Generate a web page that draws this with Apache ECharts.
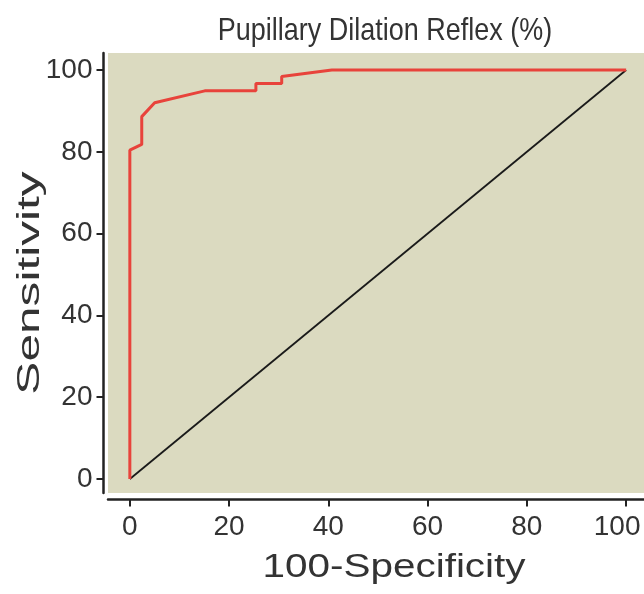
<!DOCTYPE html>
<html>
<head>
<meta charset="utf-8">
<script src="https://cdn.jsdelivr.net/npm/echarts@6/dist/echarts.min.js"></script>
<style>
html,body{margin:0;padding:0;background:#ffffff;}
#chart{width:644px;height:594px;}
</style>
</head>
<body>
<div id="chart"></div>
<script>
// ROC curve points: [100-Specificity, Sensitivity]
const rocX = [0, 0, 2.4, 2.4, 5.0, 15.1, 25.4, 25.4, 30.6, 30.6, 40.7, 100];
const rocY = [0, 80.4, 81.8, 88.6, 92.0, 94.9, 94.9, 96.7, 96.7, 98.4, 100, 100];
// Reference (chance) line
const refX = [0, 100];
const refY = [0, 100];
// Tick labels
const xTicks = [0, 20, 40, 60, 80, 100];
const yTicks = [0, 20, 40, 60, 80, 100];
const titleText = 'Pupillary Dilation Reflex (%)';
const xName = '100-Specificity';
const yName = 'Sensitivity';

const normal = '"Liberation Sans", Arial, sans-serif';
const textColor = '#333333';

const rocData = rocX.map((x, i) => [x, rocY[i]]);
const refData = refX.map((x, i) => [x, refY[i]]);
const lastX = xTicks[xTicks.length - 1];

const chart = echarts.init(document.getElementById('chart'), null, {renderer: 'canvas'});
chart.setOption({
  animation: false,
  backgroundColor: '#ffffff',
  grid: {
    left: 108, right: 0, top: 53, bottom: 101,
    outerBoundsMode: 'none', containLabel: false,
    show: true, backgroundColor: '#dbdac0', borderWidth: 0
  },
  xAxis: {
    type: 'value', min: -4.4, max: 103.6, offset: 6.5,
    splitLine: {show: false},
    axisLine: {show: true, onZero: false, lineStyle: {color: '#222', width: 2.5}},
    axisTick: {show: true, length: 7, lineStyle: {color: '#222', width: 2}, customValues: xTicks},
    axisLabel: {
      customValues: xTicks, fontFamily: normal, fontSize: 28, color: textColor, margin: 14, hideOverlap: false,
      formatter: v => v === lastX ? '{last|' + v + '}' : '{n|' + v + '}',
      rich: {
        n: {fontFamily: normal, fontSize: 28, color: textColor},
        last: {fontFamily: normal, fontSize: 28, color: textColor, padding: [0, 18, 0, 0]}
      }
    }
  },
  yAxis: {
    type: 'value', min: -3.42, max: 104.16, offset: 4.5,
    splitLine: {show: false},
    axisLine: {show: true, onZero: false, lineStyle: {color: '#222', width: 2.5}},
    axisTick: {show: true, length: 7, lineStyle: {color: '#222', width: 2}, customValues: yTicks},
    axisLabel: {customValues: yTicks, fontFamily: normal, fontSize: 28, color: textColor, margin: 11}
  },
  graphic: [
    {type: 'text', x: 385, y: 31, scaleX: 0.843, style: {text: titleText, font: '32px ' + normal, fill: textColor, align: 'center', verticalAlign: 'middle'}},
    {type: 'text', x: 394, y: 568, scaleX: 1.19, style: {text: xName, font: '34px ' + normal, fill: textColor, align: 'center', verticalAlign: 'middle'}},
    {type: 'text', x: 30, y: 283, rotation: Math.PI / 2, scaleX: 1.55, style: {text: yName, font: '32px ' + normal, fill: textColor, align: 'center', verticalAlign: 'middle'}}
  ],
  series: [
    {type: 'line', data: refData, symbol: 'none', lineStyle: {color: '#1a1a1a', width: 1.8}, z: 2},
    {type: 'line', data: rocData, symbol: 'none', lineStyle: {color: '#e8433b', width: 3}, z: 3}
  ]
});
</script>
</body>
</html>
